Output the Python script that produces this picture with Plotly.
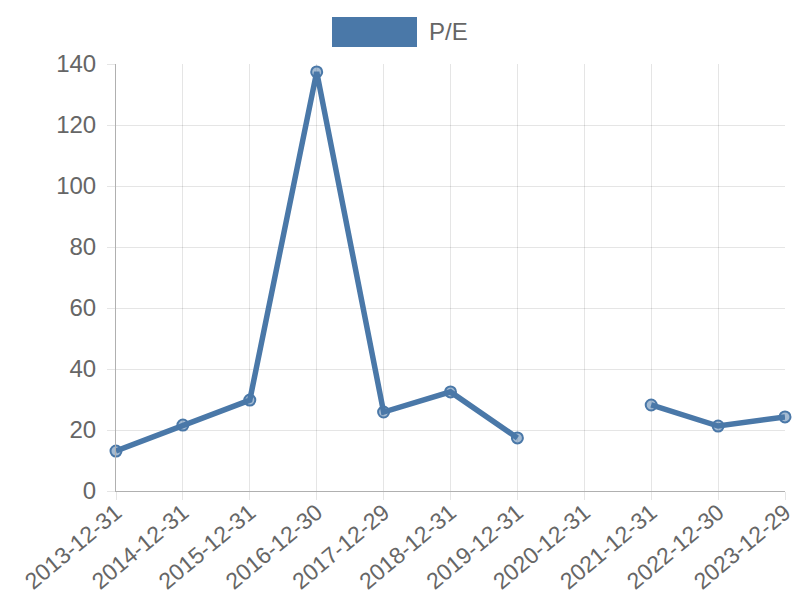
import plotly.graph_objects as go

dates = ["2013-12-31", "2014-12-31", "2015-12-31", "2016-12-30", "2017-12-29",
         "2018-12-31", "2019-12-31", "2020-12-31", "2021-12-31", "2022-12-30", "2023-12-29"]
pe = [13.1, 21.6, 29.8, 137.4, 25.9, 32.5, 17.4, None, 28.2, 21.3, 24.3]
y_ticks = [0, 20, 40, 60, 80, 100, 120, 140]

color = "rgb(74,120,168)"
grid = "rgba(0,0,0,0.1)"
font = dict(family="Liberation Sans, Arial, sans-serif", size=24, color="#666666")
xfont = dict(family="Liberation Sans, Arial, sans-serif", size=23, color="#666666")

fig = go.Figure()
fig.add_trace(go.Scatter(
    x=dates, y=pe, mode="lines+markers", name="P/E",
    connectgaps=False, showlegend=False,
    line=dict(color=color, width=5.5),
    marker=dict(size=11, color="rgba(74,120,168,0.5)", line=dict(color=color, width=2)),
    cliponaxis=False,
))

# page body has an 8px margin, so the figure is shrunk and offset to match
fig.update_layout(
    width=792, height=592,
    margin=dict(l=108, r=15, t=56, b=109),
    paper_bgcolor="white", plot_bgcolor="white",
    font=font,
    xaxis=dict(type="category", range=[0, len(dates) - 1], automargin=False,
               showgrid=True, gridcolor=grid, gridwidth=1,
               ticks="outside", ticklen=8, tickcolor=grid,
               showline=True, linecolor="#b0b0b0", linewidth=1,
               tickangle=-40, tickfont=xfont, zeroline=False,
               ticklabelstandoff=-10),
    yaxis=dict(range=[0, 140], tickvals=y_ticks, automargin=False,
               showgrid=True, gridcolor=grid, gridwidth=1,
               ticks="outside", ticklen=8, tickcolor=grid,
               showline=True, linecolor="#b0b0b0", linewidth=1,
               ticklabelstandoff=6,
               tickfont=font, zeroline=False),
)

# Legend (Chart.js style box), positions relative to plot area (116..785, 64..491 on page)
fig.add_shape(type="rect", xref="paper", yref="paper",
              x0=(332 - 116) / 669, x1=(417 - 116) / 669,
              y0=(491 - 47) / 427, y1=(491 - 17) / 427,
              fillcolor=color, line=dict(width=0))
fig.add_annotation(xref="paper", yref="paper",
                   x=(427 - 116) / 669, y=(491 - 32) / 427,
                   text="P/E", showarrow=False, xanchor="left", yanchor="middle",
                   font=font)

fig.write_html("out.html")
